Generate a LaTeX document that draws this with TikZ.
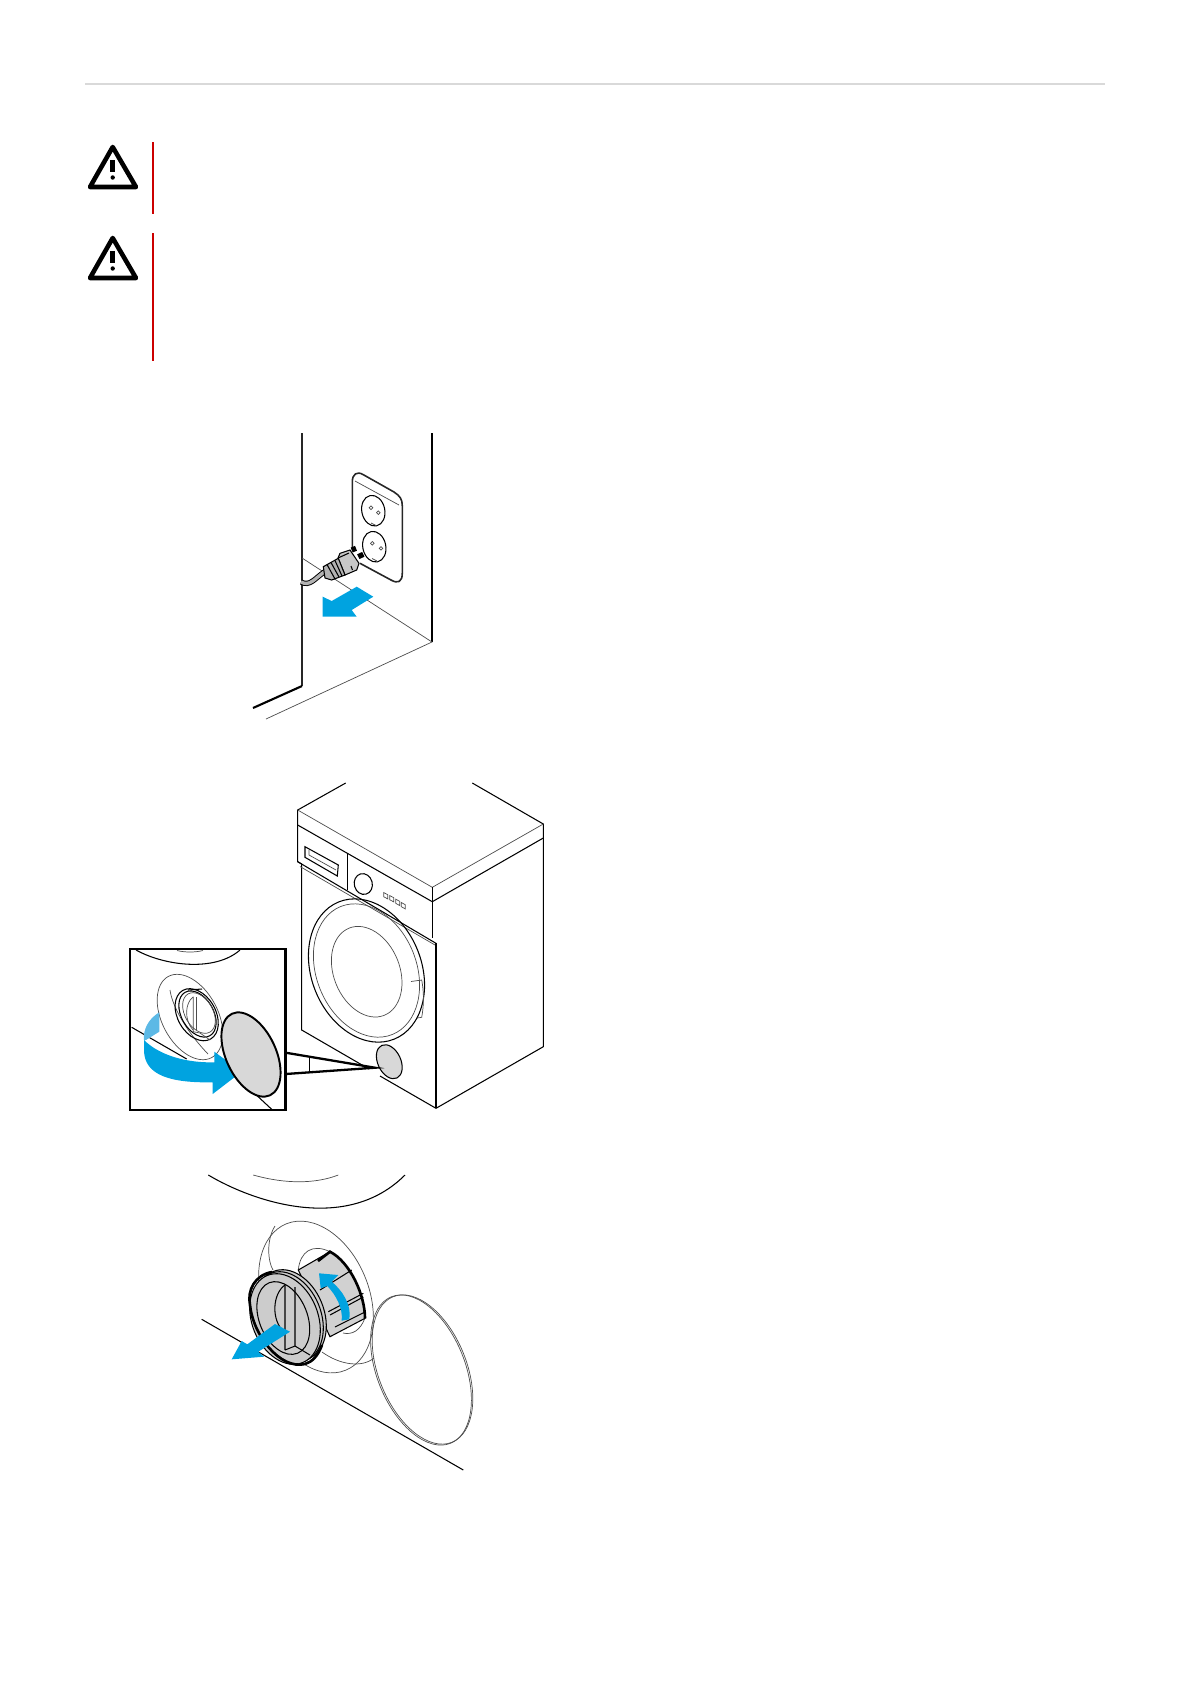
\documentclass[tikz,border=0pt]{standalone}
\definecolor{arrowblue}{HTML}{00A3E0}
\definecolor{lightblue}{HTML}{5CB9E6}
\definecolor{covergray}{HTML}{D8D8D8}
\definecolor{knobgray}{HTML}{CCCCCC}
\definecolor{warnred}{HTML}{CC0000}
\tikzset{
  hair/.style={line width=0.2pt,black!70},
  thin line/.style={line width=0.3pt,black},
  body line/.style={line width=0.45pt,black!85},
  heavy line/.style={line width=0.75pt,black},
  blue arrow/.style={fill=arrowblue,draw=none},
  warnbar/.style={line width=0.6pt,warnred},
  warnsign/.style={line width=1.3pt,black,line join=round}
}
\begin{document}
\begin{tikzpicture}[x=0.01cm,y=-0.01cm]
\useasboundingbox (0,0) rectangle (1190,1684);
% header
\draw[line width=0.55pt,black!15] (85,84) -- (1105,84);
% warnings
\draw[warnsign] (112.7,147) -- (136,187) -- (90,187) -- cycle;
\draw[line width=1.5pt] (112.7,160) -- (112.7,172);
\fill (112.7,177.5) circle (2.2);
\draw[warnbar] (153,142) -- (153,214);
\draw[warnsign] (112.7,238) -- (136,278) -- (90,278) -- cycle;
\draw[line width=1.5pt] (112.7,251) -- (112.7,263);
\fill (112.7,268.5) circle (2.2);
\draw[warnbar] (153,233) -- (153,361);
% wall and socket
\draw[body line] (302,433) -- (302,686);
\draw[line width=0.6pt] (302,686) -- (253,708);
\draw[thin line] (432,433) -- (432,642);
\draw[hair] (302,558) -- (432,642) -- (266,719);
\draw[body line] (352.3,550) -- (352.3,482) .. controls (352.3,474) and (357,471) .. (363,474.5) -- (394,492) .. controls (400,496) and (402.3,499) .. (402.3,506) -- (402.3,573) .. controls (402.3,582) and (398,584) .. (391,580) -- (360,563.3);
\draw[hair] (355,481) -- (399,505);
\draw[thin line] (373.3,510.7) circle[x radius=11.5,y radius=15.5,rotate=12];
\draw[thin line] (374.3,546.7) circle[x radius=11.5,y radius=15.5,rotate=12];
\draw[hair] (371,507.7) circle (1.8) (378.3,512.7) circle (1.8) (372.3,543.3) circle (1.8) (381,548.3) circle (1.8);
\draw[hair] (371,523) -- (376,525.5) (372,558.5) -- (377,561);
\draw[line width=1.5pt,black] (301,582) .. controls (310,587) and (315,578) .. (325,571.5);
\draw[line width=0.95pt,black!30] (301,582) .. controls (310,587) and (315,578) .. (325,571.5);
\draw[line width=1.5pt,black] (351.7,550) -- (356,548.3) (358.3,556.7) -- (363.3,554.3);
\draw[thin line,fill=black!22] (338,558) -- (340,553.3) -- (350,550) -- (359,563.3) -- (356.7,570) -- (345,575) -- cycle;
\draw[thin line] (338,558) -- (349,553) (351,566) -- (352.5,570);
\draw[thin line,fill=black!30] (323.3,566.7) -- (338.3,558.3) -- (345,575) -- (331.7,580) -- (325,578) -- cycle;
\draw[thin line] (327,564.5) -- (335,579) (331,562.5) -- (339,577) (335,560.5) -- (342,576);
\draw[blue arrow] (356.7,586.7) -- (373.3,596.7) -- (351.7,610) -- (356.7,616.7) -- (322.7,616.7) -- (322.7,596.7) -- (331.7,601) -- cycle;
% washer
\draw[thin line] (345.7,783) -- (297.7,810) -- (297.7,861.7) -- (301.7,864) -- (301.7,1030) -- (369,1069);
\draw[thin line] (380,1076) -- (436,1108.3) -- (543.3,1046.7) -- (543.3,824) -- (472.3,783);
\draw[hair] (297.7,810) -- (432.3,887.3) -- (543.3,824);
\draw[thin line] (297.7,825) -- (432.3,901.7) -- (543.3,838);
\draw[thin line] (432.3,887.3) -- (432.3,938);
\draw[thin line] (436,943.3) -- (436,1108.3);
\draw[thin line] (297.7,861.7) -- (436,943.3);
\draw[hair] (300,866.5) -- (435,945);
\draw[thin line] (305,846.7) -- (338.3,865) -- (337.3,876) -- (305,857.3) -- cycle;
\draw[hair] (309,850) -- (309,855) -- (336,870);
\draw[thin line] (347.3,853) -- (347.3,890);
\draw[thin line] (363.3,884) circle[x radius=9,y radius=10.5,rotate=15];
\foreach \bx/\by in {385.7/895.7,391.7/898.7,397.7/902.3,403.3/905.7}
  \draw[hair] (\bx,\by) ++(-2,-3.2) -- ++(4,2.2) -- ++(0,4.2) -- ++(-4,-2.2) -- cycle;
\draw[thin line] (366.5,970.5) circle[x radius=55,y radius=74,rotate=22];
\draw[hair] (366.5,970.5) circle[x radius=50,y radius=69,rotate=22];
\draw[hair] (366.7,971.7) circle[x radius=33,y radius=47,rotate=22];
\draw[hair] (411,981.5) -- (421.7,980) .. controls (424,992) and (424,1005) .. (421.7,1017.3) -- (417,1018);
\draw[thin line,fill=covergray] (389.3,1061.7) circle[x radius=11.5,y radius=18,rotate=25];
% inset
\draw[line width=0.35pt] (309.3,1056) -- (309.3,1072);
\draw[line width=0.65pt] (285.7,1052.7) -- (375,1067.7) -- (285.7,1074);
\draw[hair] (177,950.5) .. controls (185,952.5) and (195,952.5) .. (203,950.5);
\draw[thin line] (136,950) .. controls (165,966) and (215,972) .. (240,950);
\draw[hair] (190,1017) circle[x radius=28,y radius=46,rotate=28];
\draw[hair] (170,990) .. controls (172,1005) and (185,1030) .. (208,1054);
\draw[thin line] (196.7,1014.7) circle[x radius=19,y radius=28,rotate=30];
\draw[thin line] (197.5,1014) circle[x radius=16,y radius=25,rotate=30];
\draw[hair] (199,1013) circle[x radius=14,y radius=22,rotate=30];
\draw[thin line] (188,990) -- (202,989);
\draw[hair] (193.3,996.7) -- (193.3,1031.7) -- (200,1033) -- (210,1040);
\draw[hair] (196.3,997) -- (196.3,1030);
\draw[hair] (193,997) .. controls (185,1003) and (184,1020) .. (193,1030);
\draw[thin line] (131.7,1027.3) -- (186.7,1059) (236.7,1076.7) -- (271.7,1109.3);
\fill[lightblue] (159.3,1012.3) -- (159.3,1031.7) -- (146,1040) -- (144,1040) .. controls (143,1030) and (148,1019) .. (159.3,1012.3) -- cycle;
\draw[blue arrow] (144,1040) .. controls (160,1056) and (188,1063) .. (214.3,1062.3) -- (214.3,1051.7) -- (241.7,1071.7) -- (212.7,1094) -- (212.7,1082.3) .. controls (172,1083) and (144,1076) .. (144,1050) -- cycle;
\draw[line width=0.55pt,fill=covergray] (251,1054.5) circle[x radius=25,y radius=45,rotate=25];
\draw[line width=0.8pt] (130,949) rectangle (285.7,1110);
% filter step
\draw[thin line] (208.3,1175) .. controls (250,1200) and (345,1235) .. (405,1175);
\draw[hair] (253.3,1175) .. controls (285,1184) and (315,1184) .. (338.3,1175);
\draw[hair] (316,1297) circle[x radius=53,y radius=79,rotate=22];
\draw[hair] (275,1226) .. controls (266,1240) and (268,1262) .. (273,1270);
\draw[thin line] (201.7,1319.3) -- (463.3,1470);
\draw[hair] (421,1370) circle[x radius=44,y radius=79,rotate=22];
\draw[hair] (422.5,1369.5) circle[x radius=44,y radius=78.5,rotate=22];
\draw[hair] (298.3,1270) .. controls (300,1252) and (312,1243) .. (330,1251.7);
\draw[hair] (343,1333) .. controls (352,1335) and (360,1331) .. (365,1318);
\draw[hair] (322,1352) .. controls (340,1365) and (362,1368) .. (374,1358);
\draw[thin line,fill=black!18] (298.3,1270) -- (330,1251.7) .. controls (350,1262) and (365,1295) .. (365,1318.3) -- (330,1336.7) -- cycle;
\draw[heavy line] (318,1261) -- (330,1251.7) .. controls (350,1262) and (365,1295) .. (365,1318.3);
\draw[thin line] (320,1290) -- (351.7,1270) (328.3,1311.7) -- (363.3,1293.3) (330,1315) -- (363.3,1297) (335,1327) -- (365,1312);
% knob flange
\draw[thin line,fill=knobgray] (291,1315) circle[x radius=33,y radius=47,rotate=22];
\draw[thin line,fill=knobgray] (288,1317) circle[x radius=33,y radius=47,rotate=22];
\draw[thin line,fill=knobgray] (285,1319) circle[x radius=33,y radius=47,rotate=22];
\draw[heavy line] (272,1272) .. controls (255,1275) and (247,1290) .. (250,1305) .. controls (253,1335) and (280,1370) .. (305,1364) .. controls (312,1362) and (318,1356) .. (322,1345);
\draw[thin line] (283.3,1318) circle[x radius=24,y radius=38,rotate=22];
\draw[thin line] (285,1285) -- (285,1350) (295,1287) -- (295,1346) -- (310,1355) (285,1350) -- (295,1346);
\draw[thin line] (285,1285) .. controls (273,1293) and (270,1320) .. (285,1333);
\draw[blue arrow] (275,1324) -- (290,1331.7) -- (258.3,1351.7) -- (264,1356.7) -- (231.7,1359.3) -- (241.7,1341) -- (247.3,1344.3) -- cycle;
\draw[blue arrow] (319,1273.3) -- (338.3,1275) -- (331.7,1281.7) .. controls (342,1290) and (352,1305) .. (349.3,1319.3) -- (341.7,1320.7) .. controls (343,1308) and (336,1295) .. (327.3,1286) -- (320.7,1288.3) -- cycle;
\end{tikzpicture}
\end{document}
